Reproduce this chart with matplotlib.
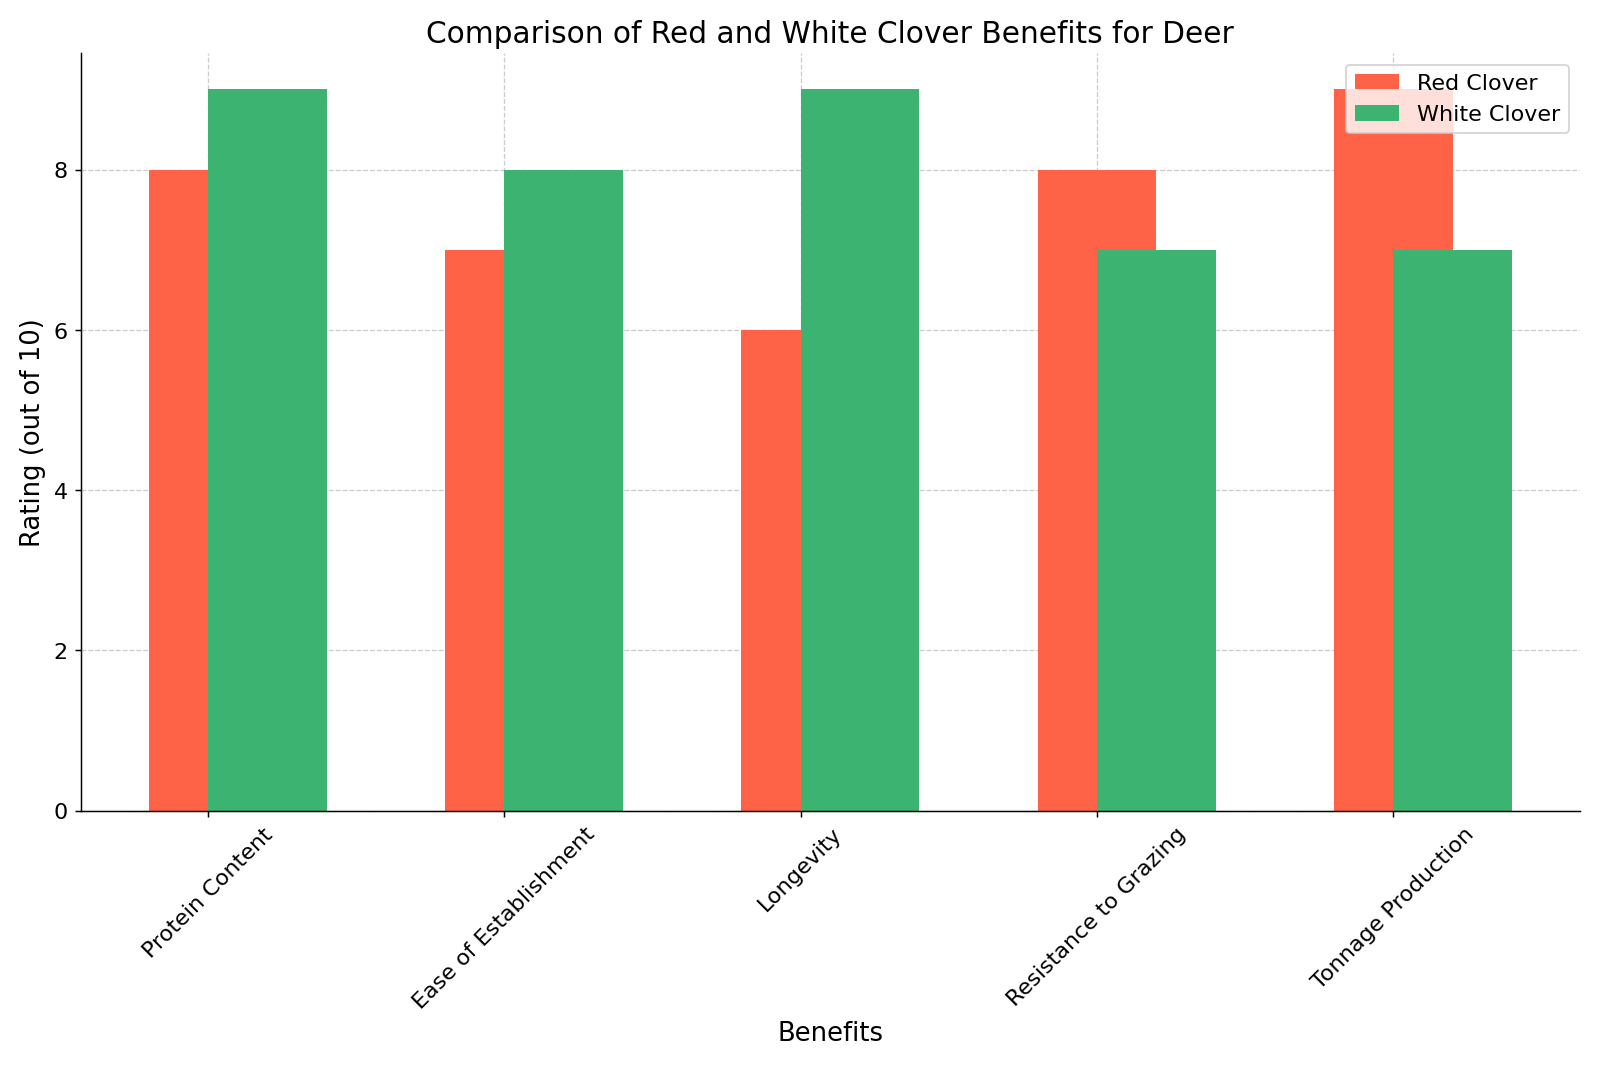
import matplotlib
matplotlib.use("Agg")
import matplotlib.pyplot as plt
import numpy as np

benefits = ["Protein Content", "Ease of Establishment", "Longevity",
            "Resistance to Grazing", "Tonnage Production"]
red_clover = [8, 7, 6, 8, 9]
white_clover = [9, 8, 9, 7, 7]

x = np.arange(len(benefits))
w = 0.4

fig, ax = plt.subplots(figsize=(12, 8), dpi=133.34)

ax.bar(x, red_clover, w, label="Red Clover", color="#FF6347")
ax.bar(x + w / 2, white_clover, w, label="White Clover", color="#3CB371")

ax.set_title("Comparison of Red and White Clover Benefits for Deer", fontsize=16)
ax.set_xlabel("Benefits", fontsize=14)
ax.set_ylabel("Rating (out of 10)", fontsize=14)
ax.set_xticks(x)
ax.set_xticklabels(benefits, rotation=45, fontsize=12)
ax.tick_params(axis="y", labelsize=12)
ax.legend(fontsize=12, loc="upper right")

ax.set_axisbelow(True)
ax.grid(True, linestyle="--", color="#cccccc", linewidth=0.7)
ax.spines["top"].set_visible(False)
ax.spines["right"].set_visible(False)

plt.tight_layout()
plt.savefig("out.png")
